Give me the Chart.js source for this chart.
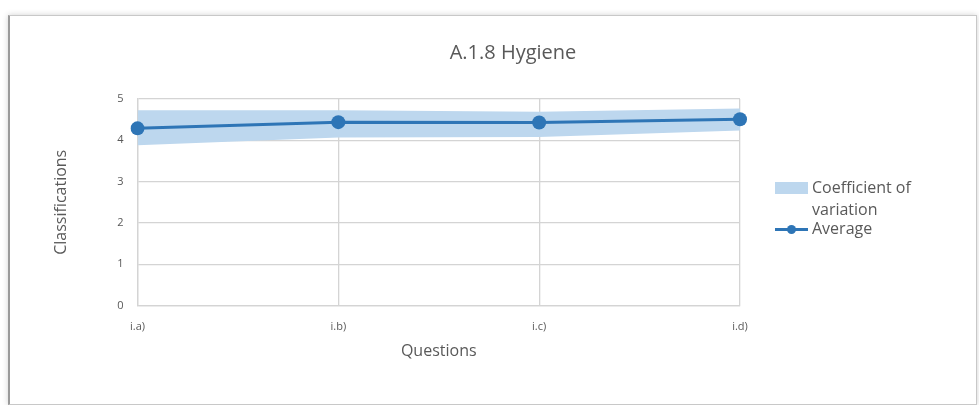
<!DOCTYPE html>
<html>
<head>
<meta charset="utf-8">
<script src="https://cdn.jsdelivr.net/npm/chart.js@4/dist/chart.umd.min.js"></script>
<style>
  html, body { margin: 0; padding: 0; background: #ffffff; }
  body { width: 979px; height: 405px; position: relative; overflow: hidden; font-family: "Open Sans", sans-serif; }
  .card {
    position: absolute; left: 8px; top: 15px; width: 966px; height: 388px;
    border: 1px solid #c8c8c8; border-left: 2px solid #9a9a9a;
    box-shadow: 0 0 6px rgba(0,0,0,0.18);
    background: #fff;
  }
  #wrap { position: absolute; left: 0; top: 0; width: 979px; height: 405px; }
  .title { position: absolute; left: 363px; width: 300px; top: 38px; text-align: center; color: #595959; font-size: 20px; }
  .legend { position: absolute; left: 775px; top: 176px; color: #595959; font-size: 16px; line-height: 22px; }
  .legend .row { position: relative; padding-left: 37px; }
  .legend .box { position: absolute; left: 0; top: 6px; width: 33px; height: 12px; background: #bdd7ee; }
  .legend .line { position: absolute; left: 0; top: 11px; width: 33px; height: 3px; background: #2e75b6; }
  .legend .dot { position: absolute; left: 12px; top: 8px; width: 9px; height: 9px; border-radius: 50%; background: #2e75b6; }
</style>
</head>
<body>
<div class="card"></div>
<div id="wrap"><canvas id="c" width="979" height="405"></canvas></div>
<div class="title">A.1.8 Hygiene</div>
<div class="legend">
  <div class="row"><span class="box"></span>Coefficient of<br>variation</div>
  <div class="row" style="margin-top:-3px"><span class="line"></span><span class="dot"></span>Average</div>
</div>
<script>
const questions = ["i.a)", "i.b)", "i.c)", "i.d)"];
const average = [4.29, 4.44, 4.43, 4.51];
const cvLower = [3.88, 4.07, 4.08, 4.24];
const cvUpper = [4.73, 4.73, 4.69, 4.77];

const grey = "#595959";
const font = "'Open Sans'";

new Chart(document.getElementById("c"), {
  type: "line",
  data: {
    labels: questions,
    datasets: [
      {
        label: "Average",
        data: average,
        borderColor: "#2e75b6",
        backgroundColor: "#2e75b6",
        borderWidth: 3,
        pointRadius: 7,
        pointBackgroundColor: "#2e75b6",
        pointBorderWidth: 0,
        fill: false,
        tension: 0,
        order: 0,
      },
      {
        label: "cv-lower",
        data: cvLower,
        borderWidth: 0,
        pointRadius: 0,
        fill: false,
        order: 2,
      },
      {
        label: "Coefficient of variation",
        data: cvUpper,
        borderWidth: 0,
        pointRadius: 0,
        backgroundColor: "#bdd7ee",
        fill: 1,
        order: 1,
      },
    ],
  },
  options: {
    responsive: false,
    animation: false,
    layout: { padding: { top: 99, left: 52, right: 239, bottom: 44 } },
    plugins: {
      legend: { display: false },
      tooltip: { enabled: false },
    },
    scales: {
      x: {
        offset: false,
        grid: { color: "#d4d4d4", lineWidth: 1.3, drawTicks: false },
        border: { color: "#d4d4d4", width: 1.3 },
        ticks: { color: grey, font: { family: font, size: 11 }, padding: 15, maxRotation: 0 },
        title: { display: true, text: "Questions", color: grey, font: { family: font, size: 16 }, padding: { top: -7, bottom: 0 } },
      },
      y: {
        min: 0,
        max: 5,
        grid: { color: "#d4d4d4", lineWidth: 1.3, drawTicks: false },
        border: { color: "#d4d4d4", width: 1.3 },
        ticks: { stepSize: 1, color: grey, font: { family: font, size: 11 }, padding: 14 },
        title: { display: true, text: "Classifications", color: grey, font: { family: font, size: 16 }, padding: { top: 0, bottom: 32 } },
      },
    },
  },
});
</script>
</body>
</html>
